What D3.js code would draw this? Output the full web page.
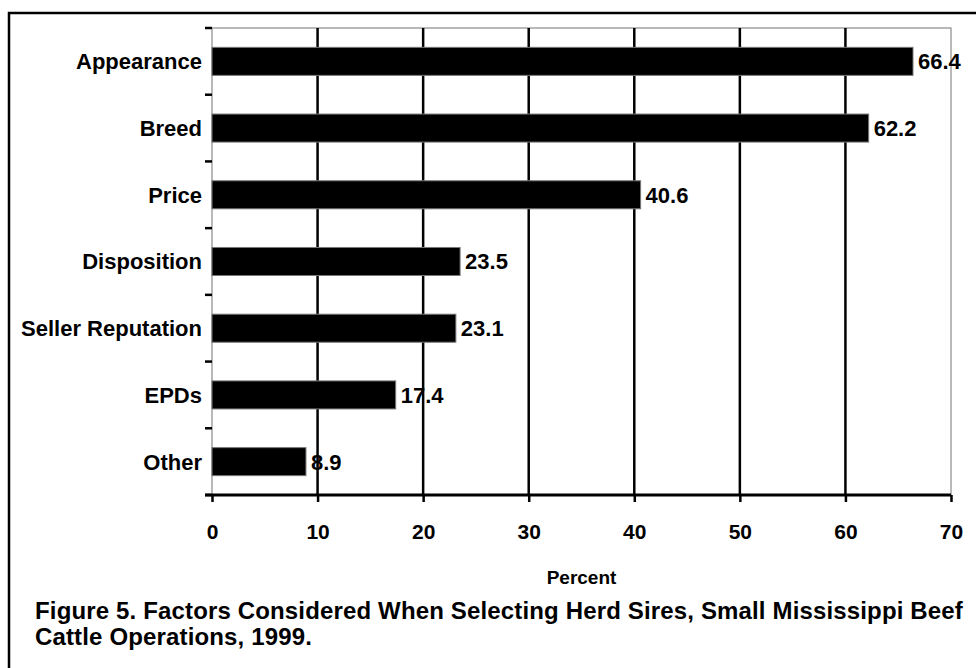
<!DOCTYPE html>
<html>
<head>
<meta charset="utf-8">
<script src="https://cdn.jsdelivr.net/npm/d3@7"></script>
<style>
  html, body { margin: 0; padding: 0; background: #fff; }
  svg { display: block; }
  text { font-family: Arial, "Liberation Sans", sans-serif; font-weight: bold; fill: #000; }
</style>
</head>
<body>
<svg id="chart" width="976" height="668"></svg>
<script>
// Factors considered when selecting herd sires (percent of operations)
const categories = ["Appearance", "Breed", "Price", "Disposition", "Seller Reputation", "EPDs", "Other"];
const percents = [66.4, 62.2, 40.6, 23.5, 23.1, 17.4, 8.9];
const xTicks = [0, 10, 20, 30, 40, 50, 60, 70];
const xTitle = "Percent";
const captionLines = [
  "Figure 5. Factors Considered When Selecting Herd Sires, Small Mississippi Beef",
  "Cattle Operations, 1999."
];

const svg = d3.select("#chart");

// outer frame (only its left and top edges fall inside the page)
svg.append("rect")
  .attr("x", 9).attr("y", 13)
  .attr("width", 1100).attr("height", 800)
  .attr("fill", "none").attr("stroke", "#000").attr("stroke-width", 2.5);

const plot = { left: 212, right: 951, top: 28, bottom: 495 };

const x = d3.scaleLinear().domain([0, 70]).range([plot.left, plot.right]);
const y = d3.scaleBand().domain(categories).range([plot.top, plot.bottom])
  .paddingInner(0.58).paddingOuter(0.29);
const yEdges = d3.scaleBand().domain(categories).range([plot.top, plot.bottom]);

// plot area border
svg.append("rect")
  .attr("x", plot.left).attr("y", plot.top)
  .attr("width", plot.right - plot.left).attr("height", plot.bottom - plot.top)
  .attr("fill", "none").attr("stroke", "#8a8a8a").attr("stroke-width", 1.2);

// vertical gridlines
svg.append("g")
  .selectAll("line")
  .data(xTicks.filter(t => t > 0 && t < 70))
  .join("line")
  .attr("x1", d => x(d)).attr("x2", d => x(d))
  .attr("y1", plot.top).attr("y2", plot.bottom)
  .attr("stroke", "#000").attr("stroke-width", 2.5);

// bars
svg.append("g")
  .selectAll("rect")
  .data(categories)
  .join("rect")
  .attr("x", x(0))
  .attr("y", d => y(d))
  .attr("width", (d, i) => x(percents[i]) - x(0))
  .attr("height", y.bandwidth())
  .attr("fill", "#000")
  .attr("stroke", "#777").attr("stroke-width", 1);

// value labels
svg.append("g")
  .selectAll("text")
  .data(categories)
  .join("text")
  .attr("x", (d, i) => x(percents[i]) + 5)
  .attr("y", d => y(d) + y.bandwidth() / 2)
  .attr("dy", "0.36em")
  .style("font-size", "22px")
  .text((d, i) => percents[i].toFixed(1));

// left axis: category ticks at band edges, labels centred in bands
const edgeVals = categories.map(c => yEdges(c)).concat([plot.bottom]);
svg.append("g")
  .selectAll("line")
  .data(edgeVals)
  .join("line")
  .attr("x1", plot.left - 7).attr("x2", plot.left)
  .attr("y1", d => d).attr("y2", d => d)
  .attr("stroke", "#000").attr("stroke-width", 2.5);

svg.append("g")
  .selectAll("text")
  .data(categories)
  .join("text")
  .attr("x", plot.left - 10)
  .attr("y", d => y(d) + y.bandwidth() / 2)
  .attr("dy", "0.36em")
  .attr("text-anchor", "end")
  .style("font-size", "22px")
  .text(d => d);

// bottom axis
const xAxis = d3.axisBottom(x).tickValues(xTicks).tickSizeInner(7).tickSizeOuter(0).tickPadding(22);
const gx = svg.append("g")
  .attr("transform", `translate(0,${plot.bottom})`)
  .call(xAxis);
gx.select(".domain").attr("stroke", "#000").attr("stroke-width", 3)
  .attr("d", `M${plot.left - 7},0H${plot.right}`);
gx.selectAll(".tick line").attr("stroke", "#000").attr("stroke-width", 2.5);
gx.selectAll(".tick text")
  .style("font-family", "Arial, 'Liberation Sans', sans-serif")
  .style("font-weight", "bold")
  .style("font-size", "21px")
  .attr("fill", "#000");

// axis title
svg.append("text")
  .attr("x", (plot.left + plot.right) / 2)
  .attr("y", 584)
  .attr("text-anchor", "middle")
  .style("font-size", "19px")
  .text(xTitle);

// caption
svg.append("g")
  .selectAll("text")
  .data(captionLines)
  .join("text")
  .attr("x", 35)
  .attr("y", (d, i) => 619 + i * 26)
  .style("font-size", "24px")
  .style("letter-spacing", "0.15px")
  .text(d => d);
</script>
</body>
</html>
